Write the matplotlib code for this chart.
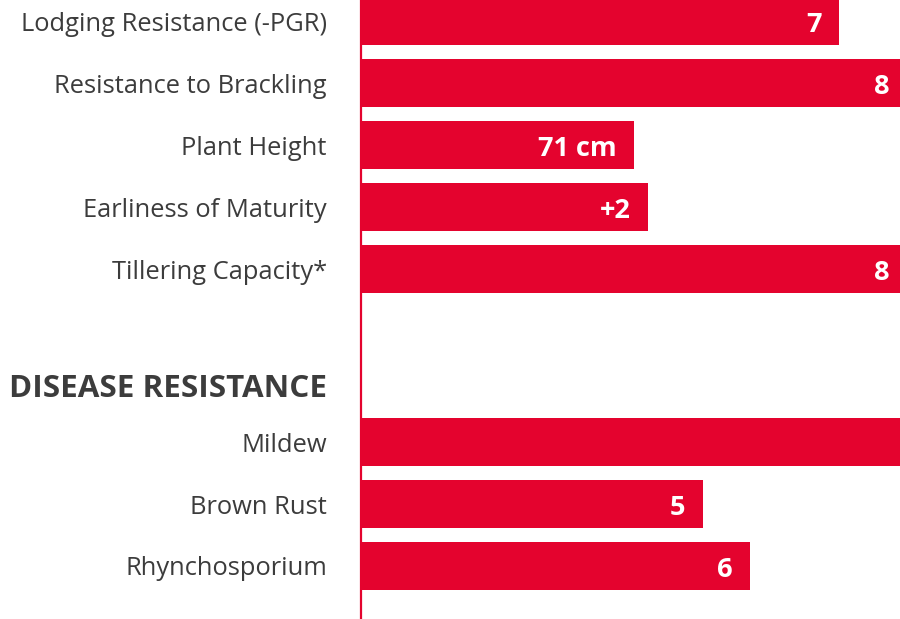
import matplotlib.pyplot as plt

# bar data (lengths on a 0-9 score-like scale) and the labels printed in the bars
categories = ["Lodging Resistance (-PGR)", "Resistance to Brackling", "Plant Height",
              "Earliness of Maturity", "Tillering Capacity*",
              "Mildew", "Brown Rust", "Rhynchosporium"]
values = [7.0, 8.0, 4.0, 4.2, 8.0, 9.0, 5.0, 5.7]
value_labels = ["7", "8", "71 cm", "+2", "8", "", "5", "6"]  # mildew label falls off the edge
section_title = "DISEASE RESISTANCE"

red = "#E4032E"
grey = "#3C3C3C"
plt.rcParams['font.family'] = ['Open Sans', 'DejaVu Sans']

# row positions: first block, then a gap with the section heading
ypos = [0, 1, 2, 3, 4, 6.79, 7.79, 8.79]
heading_y = 5.94

fig = plt.figure(figsize=(9, 6.19), dpi=100)
ax = fig.add_axes([361 / 900, 0, 1 - 361 / 900, 1])

ax.barh(ypos, values, height=0.774, color=red, zorder=2)

for y, v, lab in zip(ypos, values, value_labels):
    if lab:
        ax.annotate(lab, xy=(v, y), xytext=(-12.5, -1), textcoords='offset points',
                    ha='right', va='center_baseline', color='white', fontsize=19.5,
                    fontweight='bold', annotation_clip=False)

ax.set_xlim(0, 539 / 68.3)
ax.set_ylim(9.645, -0.34)

ax.set_yticks(ypos)
ax.set_yticklabels(categories, fontsize=18.4, color=grey)
ax.tick_params(axis='y', length=0, pad=24.5)
ax.set_xticks([])

ax.annotate(section_title, xy=(0, heading_y), xycoords=('axes fraction', 'data'),
            xytext=(-24.5, 0), textcoords='offset points', ha='right', va='center',
            fontsize=22.6, fontweight='bold', color=grey)

for s in ['top', 'right', 'bottom']:
    ax.spines[s].set_visible(False)
ax.spines['left'].set_color(red)
ax.spines['left'].set_linewidth(1.6)
ax.spines['left'].set_zorder(3)

fig.savefig("out.png", dpi=100)
